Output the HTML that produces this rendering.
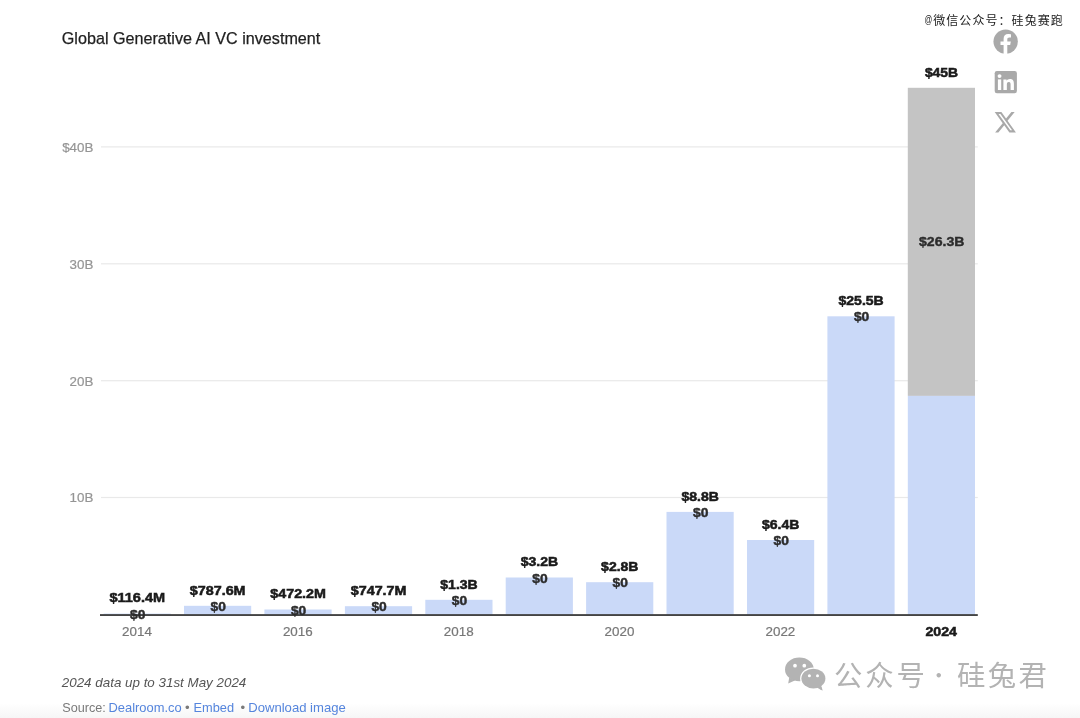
<!DOCTYPE html>
<html lang="en"><head><meta charset="utf-8"><title>Global Generative AI VC investment</title>
<style>
html,body{margin:0;padding:0;background:#fff;}
body{width:1080px;height:718px;overflow:hidden;position:relative;font-family:"Liberation Sans", sans-serif;}
svg{position:absolute;left:0;top:0;display:block;}
text{font-family:"Liberation Sans", sans-serif;}
.cjk{font-family:"Liberation Sans", "Noto Sans CJK SC", sans-serif;}
.b{font-weight:700;fill:#1a1a1a;stroke:#1a1a1a;stroke-width:0.55px;}
.z{font-weight:700;fill:#2c2c2c;stroke:#2c2c2c;stroke-width:0.4px;}
.yl{fill:#959595;stroke:#959595;stroke-width:0.2px;}
.xl{fill:#777;stroke:#777;stroke-width:0.2px;}
.lnk{fill:#5585dd;}
</style></head><body>
<svg width="1080" height="718" viewBox="0 0 1080 718">
<defs><linearGradient id="bg" x1="0" y1="0" x2="0" y2="1"><stop offset="0" stop-color="#ffffff"/><stop offset="1" stop-color="#f6f6f6"/></linearGradient></defs>
<rect x="0" y="0" width="1080" height="718" fill="#fff"/>
<rect x="0" y="703" width="1080" height="15" fill="url(#bg)"/>
<text x="61.8" y="43.9" font-size="17" text-anchor="start" class="" textLength="258.5" lengthAdjust="spacingAndGlyphs" fill="#1f1f1f" stroke="#1f1f1f" stroke-width="0.25">Global Generative AI VC investment</text>
<rect x="101" y="146.3" width="876.8" height="1.2" fill="#e9e9e9"/>
<text x="93.4" y="151.8" font-size="13.2" text-anchor="end" class="yl" textLength="31.2" lengthAdjust="spacingAndGlyphs" >$40B</text>
<rect x="101" y="263.2" width="876.8" height="1.2" fill="#e9e9e9"/>
<text x="93.4" y="268.7" font-size="13.2" text-anchor="end" class="yl" textLength="23.8" lengthAdjust="spacingAndGlyphs" >30B</text>
<rect x="101" y="380.1" width="876.8" height="1.2" fill="#e9e9e9"/>
<text x="93.4" y="385.6" font-size="13.2" text-anchor="end" class="yl" textLength="23.8" lengthAdjust="spacingAndGlyphs" >20B</text>
<rect x="101" y="496.9" width="876.8" height="1.2" fill="#e9e9e9"/>
<text x="93.4" y="502.4" font-size="13.2" text-anchor="end" class="yl" textLength="23.8" lengthAdjust="spacingAndGlyphs" >10B</text>
<rect x="103.6" y="613.6" width="67.2" height="1.4" fill="#cad9f8"/>
<rect x="184.0" y="605.8" width="67.2" height="9.2" fill="#cad9f8"/>
<rect x="264.4" y="609.5" width="67.2" height="5.5" fill="#cad9f8"/>
<rect x="344.9" y="606.2" width="67.2" height="8.8" fill="#cad9f8"/>
<rect x="425.3" y="599.8" width="67.2" height="15.2" fill="#cad9f8"/>
<rect x="505.7" y="577.5" width="67.2" height="37.5" fill="#cad9f8"/>
<rect x="586.1" y="582.2" width="67.2" height="32.8" fill="#cad9f8"/>
<rect x="666.5" y="511.9" width="67.2" height="103.1" fill="#cad9f8"/>
<rect x="747.0" y="540.0" width="67.2" height="75.0" fill="#cad9f8"/>
<rect x="827.4" y="316.3" width="67.2" height="298.7" fill="#cad9f8"/>
<rect x="907.8" y="87.8" width="67.2" height="308.1" fill="#c4c4c4"/>
<rect x="907.8" y="395.9" width="67.2" height="219.1" fill="#cad9f8"/>
<rect x="100" y="614.1" width="877.8" height="1.9" fill="#444"/>
<text x="137.3" y="602.4" font-size="13.0" text-anchor="middle" class="b" textLength="55.7" lengthAdjust="spacingAndGlyphs" >$116.4M</text>
<text x="137.8" y="618.6" font-size="12.4" text-anchor="middle" class="z" textLength="15.4" lengthAdjust="spacingAndGlyphs" >$0</text>
<text x="137.0" y="636.4" font-size="13.2" text-anchor="middle" class="xl" textLength="29.8" lengthAdjust="spacingAndGlyphs" >2014</text>
<text x="217.7" y="594.6" font-size="13.0" text-anchor="middle" class="b" textLength="55.7" lengthAdjust="spacingAndGlyphs" >$787.6M</text>
<text x="218.2" y="610.8" font-size="12.4" text-anchor="middle" class="z" textLength="15.4" lengthAdjust="spacingAndGlyphs" >$0</text>
<text x="298.1" y="598.3" font-size="13.0" text-anchor="middle" class="b" textLength="55.7" lengthAdjust="spacingAndGlyphs" >$472.2M</text>
<text x="298.6" y="614.5" font-size="12.4" text-anchor="middle" class="z" textLength="15.4" lengthAdjust="spacingAndGlyphs" >$0</text>
<text x="297.8" y="636.4" font-size="13.2" text-anchor="middle" class="xl" textLength="29.8" lengthAdjust="spacingAndGlyphs" >2016</text>
<text x="378.6" y="595.0" font-size="13.0" text-anchor="middle" class="b" textLength="55.7" lengthAdjust="spacingAndGlyphs" >$747.7M</text>
<text x="379.1" y="611.2" font-size="12.4" text-anchor="middle" class="z" textLength="15.4" lengthAdjust="spacingAndGlyphs" >$0</text>
<text x="459.0" y="588.6" font-size="13.0" text-anchor="middle" class="b" textLength="37.4" lengthAdjust="spacingAndGlyphs" >$1.3B</text>
<text x="459.5" y="604.8" font-size="12.4" text-anchor="middle" class="z" textLength="15.4" lengthAdjust="spacingAndGlyphs" >$0</text>
<text x="458.7" y="636.4" font-size="13.2" text-anchor="middle" class="xl" textLength="29.8" lengthAdjust="spacingAndGlyphs" >2018</text>
<text x="539.4" y="566.3" font-size="13.0" text-anchor="middle" class="b" textLength="37.4" lengthAdjust="spacingAndGlyphs" >$3.2B</text>
<text x="539.9" y="582.5" font-size="12.4" text-anchor="middle" class="z" textLength="15.4" lengthAdjust="spacingAndGlyphs" >$0</text>
<text x="619.8" y="571.0" font-size="13.0" text-anchor="middle" class="b" textLength="37.4" lengthAdjust="spacingAndGlyphs" >$2.8B</text>
<text x="620.3" y="587.2" font-size="12.4" text-anchor="middle" class="z" textLength="15.4" lengthAdjust="spacingAndGlyphs" >$0</text>
<text x="619.5" y="636.4" font-size="13.2" text-anchor="middle" class="xl" textLength="29.8" lengthAdjust="spacingAndGlyphs" >2020</text>
<text x="700.2" y="500.7" font-size="13.0" text-anchor="middle" class="b" textLength="37.4" lengthAdjust="spacingAndGlyphs" >$8.8B</text>
<text x="700.7" y="516.9" font-size="12.4" text-anchor="middle" class="z" textLength="15.4" lengthAdjust="spacingAndGlyphs" >$0</text>
<text x="780.7" y="528.8" font-size="13.0" text-anchor="middle" class="b" textLength="37.4" lengthAdjust="spacingAndGlyphs" >$6.4B</text>
<text x="781.2" y="545.0" font-size="12.4" text-anchor="middle" class="z" textLength="15.4" lengthAdjust="spacingAndGlyphs" >$0</text>
<text x="780.4" y="636.4" font-size="13.2" text-anchor="middle" class="xl" textLength="29.8" lengthAdjust="spacingAndGlyphs" >2022</text>
<text x="861.1" y="305.1" font-size="13.0" text-anchor="middle" class="b" textLength="45.2" lengthAdjust="spacingAndGlyphs" >$25.5B</text>
<text x="861.6" y="321.3" font-size="12.4" text-anchor="middle" class="z" textLength="15.4" lengthAdjust="spacingAndGlyphs" >$0</text>
<text x="941.5" y="76.6" font-size="13.0" text-anchor="middle" class="b" textLength="33.2" lengthAdjust="spacingAndGlyphs" >$45B</text>
<text x="941.2" y="636.4" font-size="13.2" text-anchor="middle" class="b" textLength="31.6" lengthAdjust="spacingAndGlyphs" >2024</text>
<text x="941.7" y="245.9" font-size="13.0" text-anchor="middle" class="z" textLength="45.4" lengthAdjust="spacingAndGlyphs" >$26.3B</text>
<text x="61.8" y="687.2" font-size="13.4" text-anchor="start" class="" textLength="184.5" lengthAdjust="spacingAndGlyphs" font-style="italic" fill="#555">2024 data up to 31st May 2024</text>
<text x="62.2" y="711.5" font-size="13.2" text-anchor="start" class="" textLength="43.6" lengthAdjust="spacingAndGlyphs" fill="#7a7a7a">Source:</text>
<text x="108.5" y="711.5" font-size="13.2" text-anchor="start" class="lnk" textLength="73.2" lengthAdjust="spacingAndGlyphs" >Dealroom.co</text>
<text x="184.9" y="711.5" font-size="13.2" text-anchor="start" class="" fill="#7a7a7a">&#8226;</text>
<text x="193.5" y="711.5" font-size="13.2" text-anchor="start" class="lnk" textLength="40.6" lengthAdjust="spacingAndGlyphs" >Embed</text>
<text x="240.5" y="711.5" font-size="13.2" text-anchor="start" class="" fill="#7a7a7a">&#8226;</text>
<text x="248.2" y="711.5" font-size="13.2" text-anchor="start" class="lnk" textLength="97.6" lengthAdjust="spacingAndGlyphs" >Download image</text>
<text x="924.6" y="24.6" font-size="12" class="cjk" fill="#1c1c1c"><tspan textLength="7.8" lengthAdjust="spacingAndGlyphs" font-size="10.5" dy="-1.3">@</tspan><tspan x="933.2" dy="1.3" textLength="129.6" lengthAdjust="spacing">微信公众号：硅兔赛跑</tspan></text>
<g fill="#a9a9a9"><circle cx="1005.65" cy="41.6" r="12.2"/></g>
<path fill="#fff" d="M1007.3 54.2 V45 H1010.2 L1010.8 41.5 H1007.3 V39.4 c0-1.1 0.5-2.0 2.1-2.0 H1011 V34.3 c0 0-1.4-0.3-2.8-0.3 c-2.9 0-4.6 1.800-4.6 4.900 V41.5 H1000.5 V45 H1003.6 V54.2 z"/>
<rect x="994.7" y="71" width="22.2" height="22.2" rx="2.2" fill="#a9a9a9"/>
<g fill="#fff"><rect x="997.9" y="79.400" width="3.300" height="10.600"/><circle cx="999.55" cy="76.1" r="1.95"/><path d="M1003.4 79.400 h3.150 v1.450 c0.600-1.050 1.800-1.750 3.450-1.750 c3.300 0 3.900 2.150 3.900 4.950 v5.950 h-3.300 v-5.250 c0-1.250 0-2.850-1.750-2.850 c-1.750 0-2.000 1.350-2.000 2.750 v5.350 h-3.450 z"/></g>
<g transform="translate(993.45 109.65) scale(0.985 1.046)" fill="#a9a9a9"><path d="M18.244 2.250h3.308l-7.227 8.260 8.502 11.240H16.170l-5.214-6.817L4.990 21.750H1.680l7.730-8.835L1.254 2.250H8.080l4.713 6.231zm-1.161 17.520h1.833L7.084 4.126H5.117z"/></g>
<g fill="#b3b3b3"><ellipse cx="799.4" cy="669.4" rx="14.4" ry="11.9"/><path d="M789.2 677.6 L788.2 683.5 L795.4 680.2 Z"/></g>
<g fill="#b3b3b3" stroke="#fff" stroke-width="2.6" paint-order="stroke"><path d="M816.8 687.6 L822.5 690.6 L821.2 684.8 Z" stroke="none"/><ellipse cx="813.4" cy="678.6" rx="12.0" ry="9.9"/><path d="M816.8 687.4 L822.4 690.4 L821.0 684.8 Z" stroke="none"/></g>
<g fill="#fff"><circle cx="795" cy="665.7" r="1.85"/><circle cx="804.3" cy="665.7" r="1.850"/><circle cx="809.4" cy="675.8" r="1.500"/><circle cx="817.5" cy="675.8" r="1.500"/></g>
<text x="834.000" y="685.6" font-size="28.4" class="cjk" fill="#b3b3b3" textLength="91.000" lengthAdjust="spacing">公众号</text>
<text x="938.7" y="683.4" font-size="21" fill="#b3b3b3" text-anchor="middle" style="font-family:&quot;Noto Sans CJK SC&quot;,sans-serif">·</text>
<text x="957.000" y="685.6" font-size="28.4" class="cjk" fill="#b3b3b3" textLength="89.800" lengthAdjust="spacing">硅兔君</text>
</svg>
</body></html>
